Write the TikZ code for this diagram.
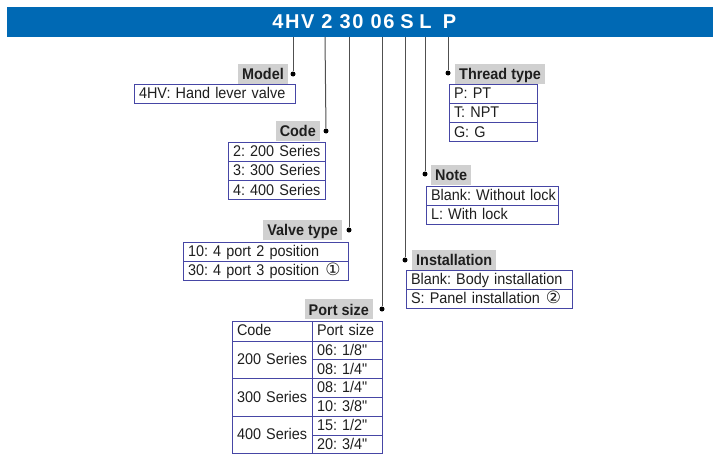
\documentclass[tikz,border=0pt]{standalone}
\usepackage{fontspec}
\setmainfont{Liberation Sans}[FakeStretch=0.93, Ligatures=TeXOff]
\newfontfamily\circfont{DejaVu Sans}
\newfontfamily\titlefont{Liberation Sans}[LetterSpace=8]
\definecolor{barblue}{RGB}{0,105,180}
\definecolor{boxc}{RGB}{70,70,165}
\definecolor{lblgray}{RGB}{208,208,208}
\definecolor{txt}{RGB}{30,30,30}
\definecolor{linec}{RGB}{80,80,80}
\frenchspacing
\newcommand{\circnum}[1]{{\circfont\fontsize{17}{17}\selectfont #1}}
\begin{document}
\begin{tikzpicture}[x=1pt,y=-1pt,
  every node/.style={font=\fontsize{15.5}{15.5}\selectfont, text=txt},
  ttl/.style={font=\titlefont\fontsize{20}{22}\selectfont\bfseries, text=white, inner sep=0pt},
  rowbox/.style={draw=boxc, line width=1pt, outer sep=0pt, minimum height=19.3pt, inner xsep=5pt, inner ysep=0pt, text height=12.2pt, text depth=2.3pt, align=left, anchor=north west},
  cellbox/.style={draw=boxc, line width=1pt, outer sep=0pt, inner xsep=5pt, inner ysep=0pt, text height=12.2pt, text depth=2.3pt, align=left, anchor=north west},
  lbl/.style={fill=lblgray, font=\fontsize{15.5}{15.5}\selectfont\bfseries, inner xsep=4pt, inner ysep=0pt, text height=14pt, text depth=1.2pt, minimum height=20pt},
  dotn/.style={circle, fill=black, inner sep=0pt, minimum size=5pt},
  conn/.style={draw=linec, line width=1pt}
]
\useasboundingbox (0,0) rectangle (713,455);
% title bar
\fill[barblue] (7,7) rectangle (713,37);
\node[ttl] (tA) at (293.5,22) {4HV};
\node[ttl] (tB) at (327,22) {2};
\node[ttl] (tC) at (351.5,22) {30};
\node[ttl] (tD) at (382.5,22) {06};
\node[ttl] (tE) at (407,22) {S};
\node[ttl] (tF) at (425.5,22) {L};
\node[ttl] (tG) at (449.5,22) {P};
\coordinate (bA) at (293,37);
\coordinate (bB) at (325,37);
\coordinate (bC) at (349,37);
\coordinate (bD) at (382,37);
\coordinate (bE) at (405,37);
\coordinate (bF) at (425,37);
\coordinate (bG) at (448,37);
% dots
\node[dotn] (dA) at (293,74) {};
\node[dotn] (dB) at (326,131) {};
\node[dotn] (dC) at (349,230) {};
\node[dotn] (dD) at (382,309) {};
\node[dotn] (dE) at (405,260) {};
\node[dotn] (dF) at (425,174) {};
\node[dotn] (dG) at (448,73) {};
\draw[conn] (bA) -- (dA);
\draw[conn] (bB) -- (dB);
\draw[conn] (bC) -- (dC);
\draw[conn] (bD) -- (dD);
\draw[conn] (bE) -- (dE);
\draw[conn] (bF) -- (dF);
\draw[conn] (bG) -- (dG);
% Model
\node[lbl, anchor=east] (lA) at (288,73.5) {Model};
\node[rowbox, text width=151pt] (m1) at (134,84) {\mbox{4HV: Hand lever valve}};
% Code
\node[lbl, anchor=east] (lB) at (320,130.5) {Code};
\node[rowbox, text width=87pt] (c1) at (228,142) {\mbox{2: 200 Series}};
\node[rowbox, text width=87pt] (c2) at (c1.south west) {\mbox{3: 300 Series}};
\node[rowbox, text width=87pt] (c3) at (c2.south west) {\mbox{4: 400 Series}};
% Valve type
\node[lbl, anchor=east] (lC) at (342,229.5) {Valve type};
\node[rowbox, text width=155pt] (v1) at (183,242) {\mbox{10: 4 port 2 position}};
\node[rowbox, text width=155pt] (v2) at (v1.south west) {\mbox{30: 4 port 3 position\hspace{6pt}\circnum{①}}};
% Port size
\node[lbl, anchor=east] (lD) at (373,309) {Port size};
\node[cellbox, minimum width=80pt, minimum height=20pt, text width=70pt] (p0a) at (232,321) {\mbox{Code}};
\node[cellbox, minimum width=70pt, minimum height=20pt, text width=60pt] (p0b) at (p0a.north east) {\mbox{Port size}};
\node[cellbox, minimum width=80pt, minimum height=37.6pt, text width=70pt] (p1a) at (p0a.south west) {\mbox{200 Series}};
\node[cellbox, minimum width=70pt, minimum height=18.8pt, text width=60pt] (p1b) at (p0b.south west) {\mbox{06: 1/8"}};
\node[cellbox, minimum width=70pt, minimum height=18.8pt, text width=60pt] (p1c) at (p1b.south west) {\mbox{08: 1/4"}};
\node[cellbox, minimum width=80pt, minimum height=37.6pt, text width=70pt] (p2a) at (p1a.south west) {\mbox{300 Series}};
\node[cellbox, minimum width=70pt, minimum height=18.8pt, text width=60pt] (p2b) at (p1c.south west) {\mbox{08: 1/4"}};
\node[cellbox, minimum width=70pt, minimum height=18.8pt, text width=60pt] (p2c) at (p2b.south west) {\mbox{10: 3/8"}};
\node[cellbox, minimum width=80pt, minimum height=37.6pt, text width=70pt] (p3a) at (p2a.south west) {\mbox{400 Series}};
\node[cellbox, minimum width=70pt, minimum height=18.8pt, text width=60pt] (p3b) at (p2c.south west) {\mbox{15: 1/2"}};
\node[cellbox, minimum width=70pt, minimum height=18.8pt, text width=60pt] (p3c) at (p3b.south west) {\mbox{20: 3/4"}};
% Installation
\node[lbl, anchor=west] (lE) at (412,259.5) {Installation};
\node[rowbox, text width=156pt] (i1) at (406,270) {\mbox{Blank: Body installation}};
\node[rowbox, text width=156pt] (i2) at (i1.south west) {\mbox{S: Panel installation\hspace{6pt}\circnum{②}}};
% Note
\node[lbl, anchor=west] (lF) at (431,174.5) {Note};
\node[rowbox, text width=122pt] (n1) at (426,186) {\mbox{Blank: Without lock}};
\node[rowbox, text width=122pt] (n2) at (n1.south west) {\mbox{L: With lock}};
% Thread type
\node[lbl, anchor=west] (lG) at (455,73.5) {Thread type};
\node[rowbox, text width=78pt] (g1) at (449,84) {\mbox{P: PT}};
\node[rowbox, text width=78pt] (g2) at (g1.south west) {\mbox{T: NPT}};
\node[rowbox, text width=78pt] (g3) at (g2.south west) {\mbox{G: G}};
\end{tikzpicture}
\end{document}
